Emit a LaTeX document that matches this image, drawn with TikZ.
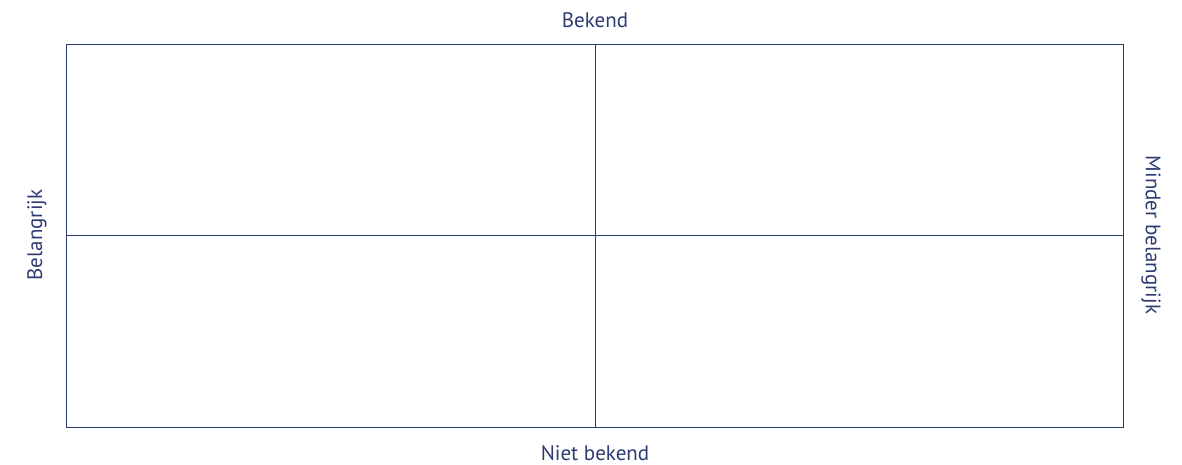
\documentclass[tikz,border=0pt]{standalone}
\usepackage{fontspec}
\setmainfont{PT Sans}
\definecolor{navy}{HTML}{2E3B72}
\begin{document}
\begin{tikzpicture}[x=1pt,y=-1pt,
  gridline/.style={draw=navy,line width=0.9pt},
  lbl/.style={text=navy,font=\fontsize{21}{24}\selectfont,inner sep=0pt}]
\useasboundingbox (0,0) rectangle (1182,464);
\coordinate (t) at (595,44);
\coordinate (b) at (595,427);
\coordinate (l) at (66,235);
\coordinate (r) at (1123,235);
\draw[gridline] (66,44) rectangle (1123,427);
\draw[gridline] (t) -- (b);
\draw[gridline] (l) -- (r);
\node[lbl] (top) at (595,20) {Bekend};
\node[lbl] (bot) at (595,453) {Niet bekend};
\node[lbl,rotate=90] (left) at (37,235) {Belangrijk};
\node[lbl,rotate=-90] (right) at (1151,235) {Minder belangrijk};
\end{tikzpicture}
\end{document}
